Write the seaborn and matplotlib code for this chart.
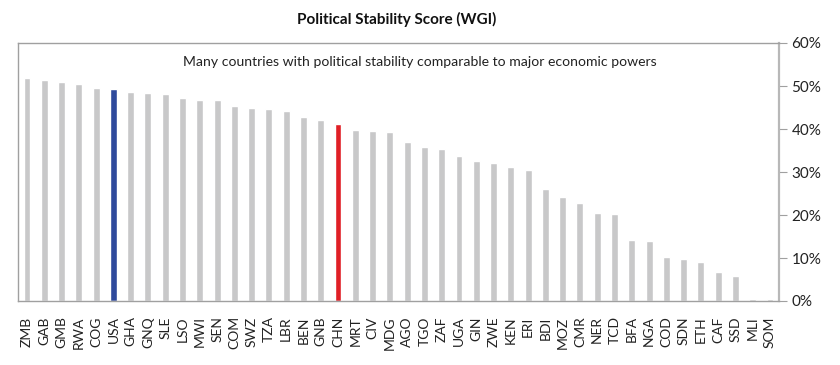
import matplotlib
matplotlib.use("Agg")
import matplotlib.pyplot as plt
import seaborn as sns
from matplotlib.ticker import FuncFormatter

countries = ["ZMB", "GAB", "GMB", "RWA", "COG", "USA", "GHA", "GNQ", "SLE", "LSO",
             "MWI", "SEN", "COM", "SWZ", "TZA", "LBR", "BEN", "GNB", "CHN", "MRT",
             "CIV", "MDG", "AGO", "TGO", "ZAF", "UGA", "GIN", "ZWE", "KEN", "ERI",
             "BDI", "MOZ", "CMR", "NER", "TCD", "BFA", "NGA", "COD", "SDN", "ETH",
             "CAF", "SSD", "MLI", "SOM"]
scores = [51.9, 51.3, 50.9, 50.5, 49.5, 49.2, 48.6, 48.4, 48.1, 47.1,
          46.8, 46.8, 45.3, 44.9, 44.6, 44.1, 42.9, 42.0, 41.1, 39.8,
          39.5, 39.2, 36.9, 35.7, 35.4, 33.7, 32.6, 32.2, 31.1, 30.5,
          26.0, 24.1, 22.8, 20.5, 20.2, 14.2, 14.0, 10.3, 9.8, 9.1,
          6.7, 5.7, 0.4, 0.4]
highlight = {"USA": "#2f4a9c", "CHN": "#e01f26"}
y_ticks = [0, 10, 20, 30, 40, 50, 60]

sns.set_theme(style="white")
plt.rcParams["font.family"] = ["Lato", "DejaVu Sans"]

palette = {c: highlight.get(c, "#c8c8c9") for c in countries}

fig = plt.figure(figsize=(8.4, 3.65), dpi=100)
ax = fig.add_axes([18 / 840, 1 - 301 / 365, (779 - 18) / 840, (301 - 43) / 365])

sns.barplot(x=countries, y=scores, hue=countries, palette=palette,
            legend=False, width=0.4, saturation=1, ax=ax)

ax.set_xlim(-0.52, len(countries) - 0.48)
ax.set_ylim(0, 60)
ax.yaxis.tick_right()
ax.set_yticks(y_ticks)
ax.yaxis.set_major_formatter(FuncFormatter(lambda v, _: f"{v:.0f}%"))
ax.tick_params(axis="y", which="both", right=True, length=6, width=0.8,
               color="#a0a0a0", labelsize=11, labelcolor="#222222", pad=3)
ax.tick_params(axis="x", length=0, labelsize=10, labelcolor="#222222",
               labelrotation=90, pad=11)

for side, spine in ax.spines.items():
    spine.set_visible(True)
    spine.set_color("#a0a0a0")
    spine.set_linewidth(1.0)
ax.spines["right"].set_color("#b8b8b8")
ax.spines["right"].set_linewidth(1.6)

ax.text((420 - 18) / 761, 0.925, "Many countries with political stability comparable to major economic powers",
        transform=ax.transAxes, ha="center", va="center", fontsize=10.1, color="#222222")
fig.text(397 / 840, 1 - 19 / 365, "Political Stability Score (WGI)", ha="center", va="center",
         fontsize=11, fontweight="bold", color="#111111")

fig.savefig("out.png", dpi=100)
